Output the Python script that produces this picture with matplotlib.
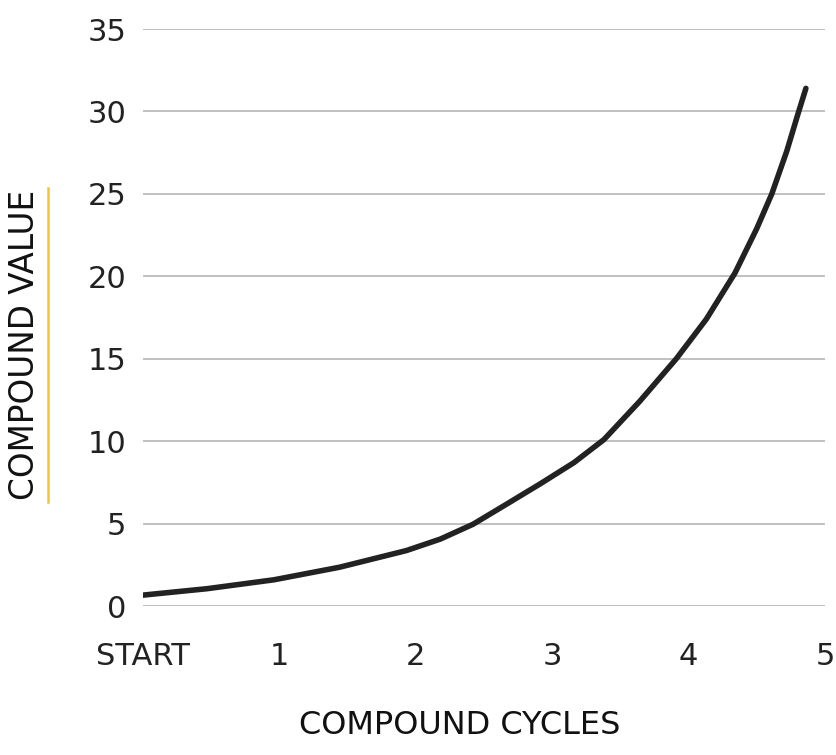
import matplotlib
matplotlib.use("Agg")
import matplotlib.pyplot as plt
from matplotlib.lines import Line2D

# Valores (ciclo, valor composto)
ciclos = [0.0, 0.47, 0.96, 1.44, 1.93, 2.18, 2.42, 2.67, 2.91, 3.16, 3.38,
          3.64, 3.91, 4.13, 4.34, 4.50, 4.61, 4.72, 4.80, 4.86]
valores = [0.66, 1.05, 1.59, 2.35, 3.36, 4.06, 4.96, 6.2, 7.4, 8.7, 10.1,
           12.4, 15.0, 17.4, 20.2, 22.9, 25.0, 27.6, 29.8, 31.4]

x_ticks = [0, 1, 2, 3, 4, 5]
x_rotulos = ["START", "1", "2", "3", "4", "5"]
y_ticks = [0, 5, 10, 15, 20, 25, 30, 35]

plt.rcParams['font.family'] = ['DejaVu Sans']

W, H = 836, 755
fig = plt.figure(figsize=(W / 100, H / 100), dpi=100)
ax = fig.add_axes([143 / W, 1 - 606 / H, (825 - 143) / W, (606 - 29) / H])

ax.plot(ciclos, valores, color="#222222", linewidth=4.0,
        solid_capstyle="round", solid_joinstyle="round", zorder=3)

ax.set_xlim(0, 5)
ax.set_ylim(0, 35)
ax.set_xticks(x_ticks)
ax.set_xticklabels(x_rotulos)
ax.set_yticks(y_ticks)
ax.grid(axis="y", color="#b5b5b5", linewidth=1.2)
ax.set_axisbelow(True)
for s in ax.spines.values():
    s.set_visible(False)
ax.tick_params(axis="both", length=0, labelsize=22, labelcolor="#222222")
ax.tick_params(axis="y", pad=12)
ax.tick_params(axis="x", pad=26)

fig.text(460 / W, 1 - 726 / H, "COMPOUND CYCLES", ha="center", va="center",
         fontsize=23, color="#111111")
fig.text(25 / W, 1 - 345 / H, "COMPOUND VALUE", ha="center", va="center",
         rotation=90, fontsize=23.5, color="#111111")
fig.add_artist(Line2D([48 / W, 48 / W], [1 - 188 / H, 1 - 502 / H],
                      transform=fig.transFigure, color="#f2c531", linewidth=1.8))

fig.savefig("out.png", dpi=100)
